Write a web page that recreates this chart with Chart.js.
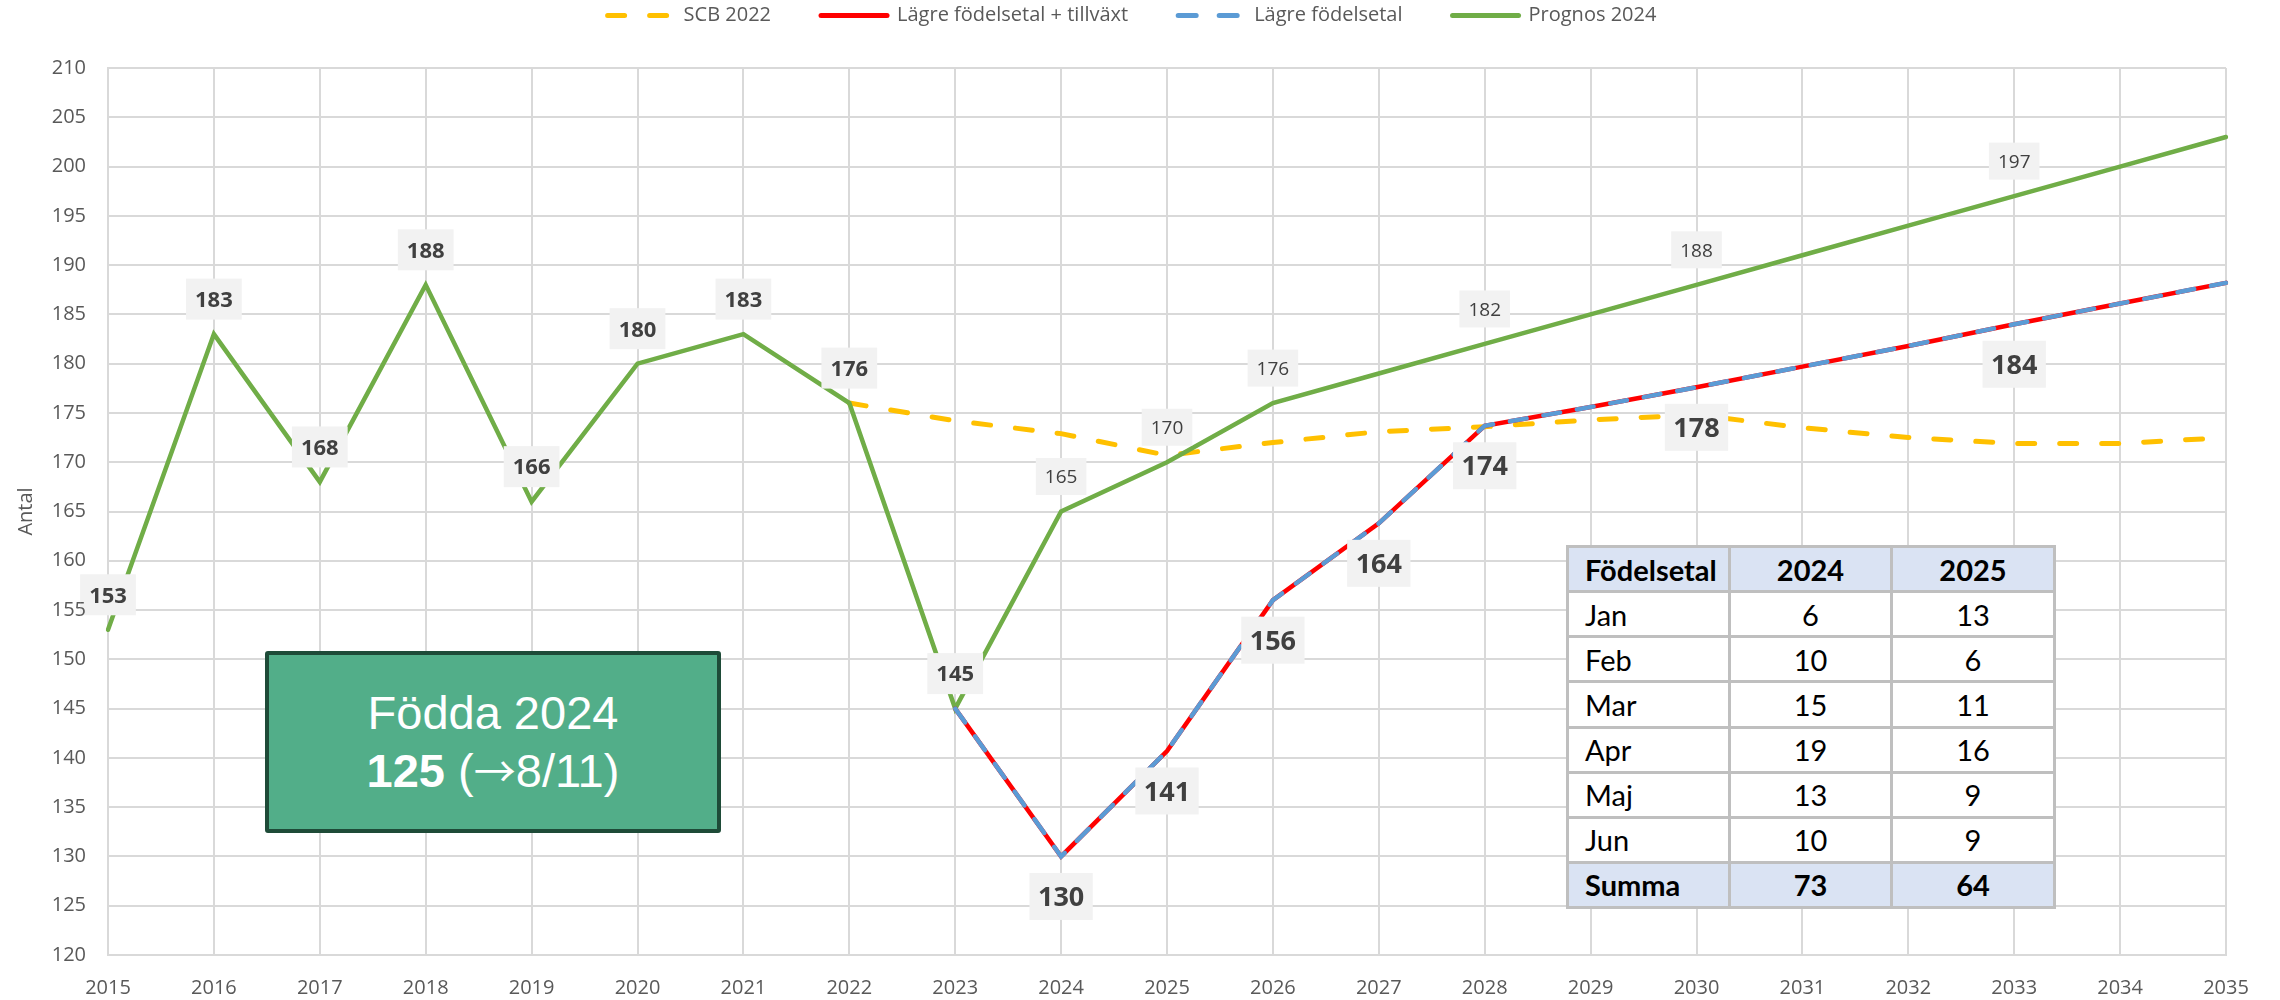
<!DOCTYPE html>
<html>
<head>
<meta charset="utf-8">
<script src="https://cdn.jsdelivr.net/npm/chart.js@4/dist/chart.umd.min.js"></script>
<style>
html,body{margin:0;padding:0;background:#fff;}
#wrap{position:relative;width:2280px;height:1000px;overflow:hidden;}
#c{position:absolute;left:0;top:0;}
#note{position:absolute;left:265px;top:651px;width:456px;height:182px;box-sizing:border-box;
  border:4px solid #1e4b38;background:#52ae89;border-radius:3px;color:#fff;
  font-family:"Liberation Sans",Arial,sans-serif;font-size:47px;line-height:56px;text-align:center;
  display:flex;flex-direction:column;justify-content:center;}
#note b{font-weight:bold;}
#note .ar{font-family:"Noto Sans CJK SC","DejaVu Sans",sans-serif;font-size:42px;}
#tbl{position:absolute;left:1566px;top:545px;width:487px;height:364px;border-collapse:collapse;table-layout:fixed;
  background:#fff;font-family:Lato,"Open Sans",sans-serif;font-size:29px;color:#000;}
#tbl td{border:3px solid #bfbfbf;padding:0;height:1px;text-align:center;vertical-align:middle;}
#tbl td.l{text-align:left;padding-left:16px;}
#tbl tr.h td{background:#dae3f3;font-weight:bold;}
</style>
</head>
<body>
<div id="wrap">
<canvas id="c" width="2280" height="1000"></canvas>
<div id="note"></div>
<table id="tbl"></table>
</div>
<script>
// ---- data ----
const years = ['2015','2016','2017','2018','2019','2020','2021','2022','2023','2024','2025',
               '2026','2027','2028','2029','2030','2031','2032','2033','2034','2035'];
const scb2022 = [null,null,null,null,null,null,null,
                 176,174.2,172.9,170.7,172.0,173.1,173.6,174.3,174.8,173.5,172.5,171.9,171.9,172.5];
const lagreTillvaxt = [null,null,null,null,null,null,null,null,
                 145,130,140.7,156,163.8,173.7,175.6,177.6,179.7,181.8,184.0,186.1,188.2];
const lagreFodelsetal = [null,null,null,null,null,null,null,null,
                 145,130,140.7,156,163.8,173.7,175.6,177.6,179.7,181.8,184.0,186.1,188.2];
const prognos2024 = [153,183,168,188,166,180,183,176,145,165,170,176,179,182,185,188,191,194,197,200,203];
const seriesNames = ['SCB 2022','Lägre födelsetal + tillväxt','Lägre födelsetal','Prognos 2024'];

const tableHeader = ['Födelsetal','2024','2025'];
const tableMonths = ['Jan','Feb','Mar','Apr','Maj','Jun'];
const births2024 = [6,10,15,19,13,10];
const births2025 = [13,6,11,16,9,9];
const sumLabel = 'Summa';

const noteTitle = 'Födda 2024';
const noteCount = 125;
const noteDate = '8/11';

// ---- overlays ----
document.getElementById('note').innerHTML =
  '<div>' + noteTitle + '</div><div><b>' + noteCount + '</b> (<span class="ar">\u2192</span>' + noteDate + ')</div>';
const sum = a => a.reduce((s, v) => s + v, 0);
let rows = '<colgroup><col style="width:162px"><col style="width:162px"><col style="width:163px"></colgroup>';
rows += '<tr class="h"><td class="l">' + tableHeader[0] + '</td><td>' + tableHeader[1] + '</td><td>' + tableHeader[2] + '</td></tr>';
tableMonths.forEach((m, i) => {
  rows += '<tr><td class="l">' + m + '</td><td>' + births2024[i] + '</td><td>' + births2025[i] + '</td></tr>';
});
rows += '<tr class="h"><td class="l">' + sumLabel + '</td><td>' + sum(births2024) + '</td><td>' + sum(births2025) + '</td></tr>';
document.getElementById('tbl').innerHTML = rows;

const gridColor = '#d9d9d9';
const textColor = '#595959';
const tickFont = { family: 'Open Sans', size: 20 };

// ---- value label plugin ----
const valueLabels = {
  id: 'valueLabels',
  afterDatasetsDraw(chart, args, opts) {
    const ctx = chart.ctx;
    const rects = [];
    opts.groups.forEach(g => {
      const meta = chart.getDatasetMeta(g.dataset);
      const data = chart.data.datasets[g.dataset].data;
      const st = opts.styles[g.style];
      ctx.save();
      ctx.font = st.weight + ' ' + st.size + 'px ' + st.family;
      ctx.textAlign = 'center';
      ctx.textBaseline = 'alphabetic';
      g.indices.forEach(i => {
        const pt = meta.data[i];
        const txt = String(Math.round(data[i]));
        const w = ctx.measureText(txt).width + 2 * st.padX;
        const cx = pt.x, cy = pt.y + st.dy;
        const r = { x: cx - w / 2, y: cy - st.boxH / 2, w: w, h: st.boxH };
        rects.push(r);
        ctx.fillStyle = st.bg;
        ctx.fillRect(r.x, r.y, r.w, r.h);
        ctx.fillStyle = st.color;
        ctx.fillText(txt, cx, cy + st.size * 0.357);
      });
      ctx.restore();
    });
    // keep y tick labels visible above label boxes that reach into the axis area
    const ys = chart.scales.y;
    const area = chart.chartArea;
    rects.filter(r => r.x < area.left).forEach(r => {
      ctx.save();
      ctx.beginPath();
      ctx.rect(r.x, r.y, r.w, r.h);
      ctx.clip();
      ctx.font = tickFont.size + 'px ' + tickFont.family;
      ctx.fillStyle = textColor;
      ctx.textAlign = 'right';
      ctx.textBaseline = 'middle';
      ys.ticks.forEach(t => {
        ctx.fillText(String(t.value), area.left - ys.options.ticks.padding, ys.getPixelForValue(t.value));
      });
      ctx.restore();
    });
  }
};

const legendDashes = [[17, 25], [], [18, 23], []];

const chart = new Chart(document.getElementById('c'), {
  type: 'line',
  plugins: [valueLabels],
  data: {
    labels: years,
    datasets: [
      { label: seriesNames[0], data: scb2022, borderColor: '#ffc000', backgroundColor: '#ffc000',
        borderWidth: 5, borderDash: [17, 25], borderCapStyle: 'round', pointRadius: 0, order: 3 },
      { label: seriesNames[1], data: lagreTillvaxt, borderColor: '#ff0000', backgroundColor: '#ff0000',
        borderWidth: 4.5, borderCapStyle: 'round', pointRadius: 0, order: 1 },
      { label: seriesNames[2], data: lagreFodelsetal, borderColor: '#5b9bd5', backgroundColor: '#5b9bd5',
        borderWidth: 4.5, borderDash: [17, 17], borderCapStyle: 'round', pointRadius: 0, order: 0 },
      { label: seriesNames[3], data: prognos2024, borderColor: '#70ad47', backgroundColor: '#70ad47',
        borderWidth: 4.5, borderCapStyle: 'round', pointRadius: 0, order: 2 }
    ]
  },
  options: {
    responsive: false,
    animation: false,
    layout: { padding: { top: -44.5, left: 38, right: 54, bottom: 0 } },
    plugins: {
      tooltip: { enabled: false },
      title: { display: false },
      subtitle: { display: true, text: '', position: 'top', weight: 100,
                  padding: { top: 0, bottom: 20.5 }, font: { size: 10, lineHeight: 1.2 } },
      legend: {
        position: 'top',
        labels: {
          usePointStyle: true, pointStyle: 'line', pointStyleWidth: 66, padding: 50,
          color: textColor, font: { family: 'Open Sans', size: 20 },
          generateLabels(ch) {
            return ch.data.datasets.map((ds, i) => ({
              text: ds.label, fillStyle: ds.borderColor, strokeStyle: ds.borderColor,
              lineWidth: 5, lineDash: legendDashes[i], lineCap: 'round',
              pointStyle: 'line', hidden: false, datasetIndex: i, fontColor: textColor
            }));
          }
        }
      },
      valueLabels: {
        styles: {
          hist: { weight: 'bold', size: 22, family: 'Open Sans', boxH: 41, padX: 9, dy: -35, bg: '#f2f2f2', color: '#404040' },
          fc:   { weight: 'normal', size: 19, family: 'Open Sans', boxH: 37, padX: 9, dy: -35, bg: '#f2f2f2', color: '#404040' },
          low:  { weight: 'bold', size: 27, family: 'Open Sans', boxH: 47, padX: 8.5, dy: 40, bg: '#f2f2f2', color: '#404040' }
        },
        groups: [
          { dataset: 3, style: 'hist', indices: [0,1,2,3,4,5,6,7,8] },
          { dataset: 3, style: 'fc', indices: [9,10,11,13,15,18] },
          { dataset: 1, style: 'low', indices: [9,10,11,12,13,15,18] }
        ]
      }
    },
    scales: {
      x: {
        grid: { color: gridColor, lineWidth: 2, drawTicks: false },
        border: { color: gridColor, width: 2 },
        ticks: { color: textColor, font: tickFont, padding: 21, maxRotation: 0, autoSkip: false },
        afterFit(s) { s.height = 45; }
      },
      y: {
        min: 120, max: 210,
        grid: { color: gridColor, lineWidth: 2, drawTicks: false },
        border: { color: gridColor, width: 2 },
        ticks: { stepSize: 5, color: textColor, font: tickFont, padding: 22 },
        title: { display: true, text: 'Antal', color: textColor, font: { family: 'Open Sans', size: 20 },
                 padding: { top: -24, bottom: 0 } },
        afterFit(s) { s.width = 70; }
      }
    }
  }
});
</script>
</body>
</html>
